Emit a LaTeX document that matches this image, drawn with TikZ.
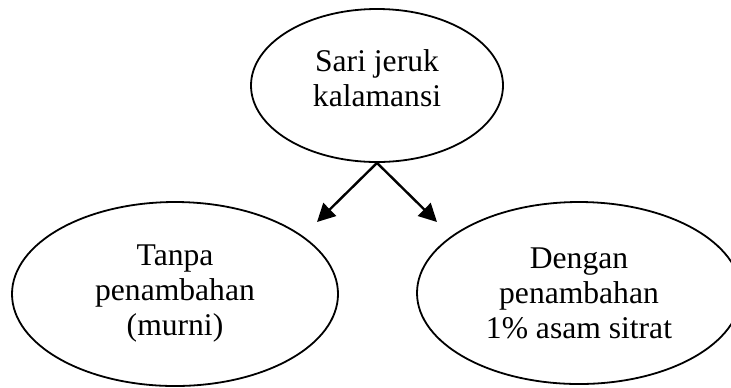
\documentclass[tikz,border=0pt]{standalone}
\usepackage{fontspec}
\setmainfont{Liberation Serif}
\usetikzlibrary{shapes.geometric, arrows.meta}

\begin{document}
\begin{tikzpicture} [
    x=0.5pt, y=-0.5pt,
    every node/.style = {font=\fontsize{15.8}{17.5}\selectfont, align=center},
    juice/.style = {ellipse, draw, line width=0.9pt, inner sep=0pt},
    every edge/.style = {draw, line width=1.2pt, -{Triangle[length=9pt, width=9pt]}}]
    % \draw [help lines] (0,0) grid [step=50] (731,387);
    \useasboundingbox (0,0) rectangle (731,387);
    \clip (0,0) rectangle (731,387);
    \node (sari) [juice,
        minimum width=126pt, minimum height=76.5pt,
        text depth=7pt] at (377,85.5) {Sari jeruk\\kalamansi};
    \node (tanpa) [juice,
        minimum width=163pt, minimum height=92pt] at (175,294) {Tanpa\\penambahan\\(murni)};
    \node (dengan) [juice,
        minimum width=162pt, minimum height=91pt] at (579,293) {Dengan\\penambahan\\1\% asam sitrat};
    \coordinate (toL) at (317,222);
    \coordinate (toR) at (437,222);

    \path
        (sari.south) edge (toL)
        (sari.south) edge (toR);
\end{tikzpicture}
\end{document}
